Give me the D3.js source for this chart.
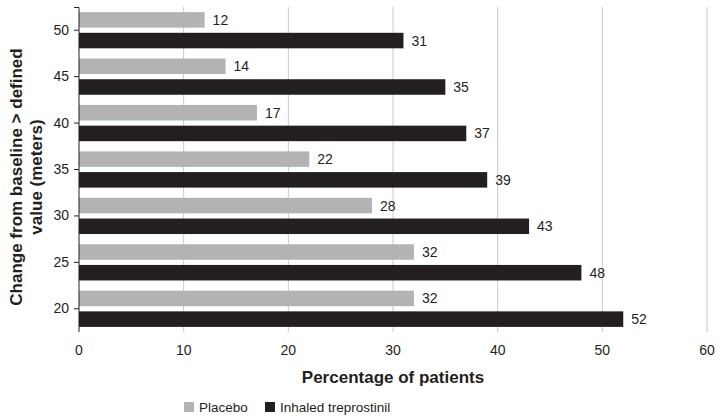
<!DOCTYPE html>
<html><head><meta charset="utf-8">
<script src="https://cdn.jsdelivr.net/npm/d3@7"></script>
<style>body{margin:0;background:#fff}svg{display:block}text{font-family:"Liberation Sans",Arial,sans-serif;fill:#231f20}</style>
</head><body>
<script>
const categories = ["50","45","40","35","30","25","20"];
const placebo = [12,14,17,22,28,32,32];
const treprostinil = [31,35,37,39,43,48,52];
const xTicks = [0,10,20,30,40,50,60];
const seriesNames = ["Placebo","Inhaled treprostinil"];
const colors = ["#b3b3b5","#231f20"];

const W=720,H=419;
const svg=d3.select("body").append("svg").attr("width",W).attr("height",H);
const x=d3.scaleLinear().domain([0,60]).range([79,707]);
const y=d3.scaleBand().domain(categories).range([7,332]).paddingInner(0.22).paddingOuter(0.11);
const sub=d3.scaleBand().domain([0,1]).range([0,y.bandwidth()]).paddingInner(0.25);

// gridlines
svg.append("g").selectAll("line").data(xTicks.slice(1)).join("line")
 .attr("x1",d=>x(d)).attr("x2",d=>x(d)).attr("y1",7).attr("y2",332)
 .attr("stroke","#c8c8c8").attr("stroke-width",1);

// bars
const data=categories.map((c,i)=>({c,v:[placebo[i],treprostinil[i]]}));
const g=svg.append("g");
data.forEach(d=>{
  d.v.forEach((v,k)=>{
    g.append("rect").attr("x",x(0)).attr("y",y(d.c)+sub(k)).attr("width",x(v)-x(0))
     .attr("height",sub.bandwidth()).attr("fill",colors[k]);
    g.append("text").attr("x",x(v)+8).attr("y",y(d.c)+sub(k)+sub.bandwidth()/2)
     .attr("dy","0.36em").attr("font-size",14).text(v);
  });
});

// y axis
const ya=svg.append("g").attr("transform","translate(79,0)")
 .call(d3.axisLeft(y).tickSize(5).tickPadding(5));
ya.select(".domain").attr("d","M-5,7.5H0V332").attr("stroke","#231f20").attr("fill","none");
ya.selectAll(".tick line").attr("stroke","#231f20");
ya.selectAll(".tick text").attr("font-size",14).attr("fill","#231f20").style("font-family","Liberation Sans, Arial, sans-serif");

// x axis labels
svg.append("g").selectAll("text").data(xTicks).join("text")
 .attr("x",d=>x(d)).attr("y",355).attr("text-anchor","middle").attr("font-size",14).text(d=>d);

svg.append("text").attr("x",393).attr("y",383).attr("text-anchor","middle")
 .attr("font-size",17).attr("font-weight","bold").text("Percentage of patients");

const yt=svg.append("text").attr("transform","translate(0,177) rotate(-90)").attr("text-anchor","middle")
 .attr("font-size",17).attr("font-weight","bold");
yt.append("tspan").attr("x",0).attr("y",22).text("Change from baseline > defined");
yt.append("tspan").attr("x",0).attr("y",42).text("value (meters)");

// legend
const lg=svg.append("g");
const lx=[184,265];
seriesNames.forEach((n,i)=>{
  lg.append("rect").attr("x",lx[i]).attr("y",402).attr("width",10).attr("height",10).attr("fill",colors[i]);
  lg.append("text").attr("x",lx[i]+15).attr("y",412).attr("font-size",13.5).text(n);
});
</script>
</body></html>
